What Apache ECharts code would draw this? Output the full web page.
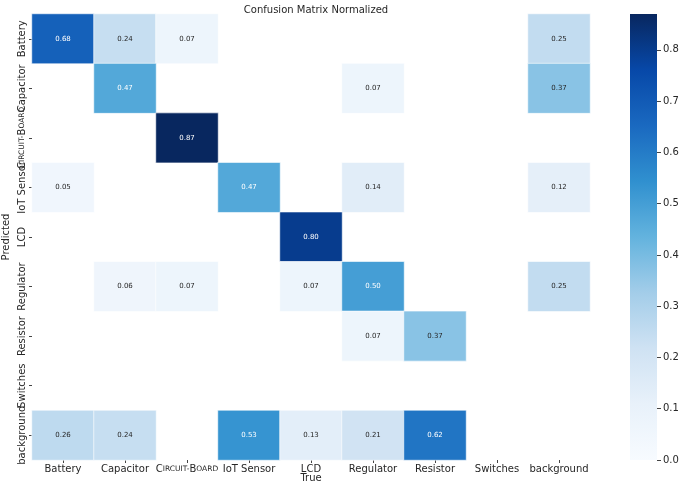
<!DOCTYPE html>
<html>
<head>
<meta charset="utf-8">
<script src="https://cdn.jsdelivr.net/npm/echarts@6/dist/echarts.min.js"></script>
<style>
  html, body { margin: 0; padding: 0; background: #fff; }
  #chart { width: 685px; height: 485px; }
</style>
</head>
<body>
<div id="chart"></div>
<script>
const classes = ['Battery', 'Capacitor', 'Circuit-Board', 'IoT Sensor', 'LCD', 'Regulator', 'Resistor', 'Switches', 'background'];

// rows = predicted, columns = true
const rowBattery    = [0.68, 0.24, 0.07, 0, 0, 0, 0, 0, 0.25];
const rowCapacitor  = [0, 0.47, 0, 0, 0, 0.07, 0, 0, 0.37];
const rowCircuit    = [0, 0, 0.87, 0, 0, 0, 0, 0, 0];
const rowIot        = [0.05, 0, 0, 0.47, 0, 0.14, 0, 0, 0.12];
const rowLcd        = [0, 0, 0, 0, 0.80, 0, 0, 0, 0];
const rowRegulator  = [0, 0.06, 0.07, 0, 0.07, 0.50, 0, 0, 0.25];
const rowResistor   = [0, 0, 0, 0, 0, 0.07, 0.37, 0, 0];
const rowSwitches   = [0, 0, 0, 0, 0, 0, 0, 0, 0];
const rowBackground = [0.26, 0.24, 0, 0.53, 0.13, 0.21, 0.62, 0, 0];

const matrix = [rowBattery, rowCapacitor, rowCircuit, rowIot, rowLcd, rowRegulator, rowResistor, rowSwitches, rowBackground];

const colorbarTicks = [0, 0.1, 0.2, 0.3, 0.4, 0.5, 0.6, 0.7, 0.8];
const vmax = 0.87;

// Blues-like ramp, a bit more saturated as in the picture
const blues = ['#f7fbff', '#e8f1fa', '#cfe2f3', '#a3cde9', '#63b3de', '#3090cf', '#1a69c0', '#0748a8', '#08275f'];

// zero cells are masked (left blank)
const cells = [];
matrix.forEach((row, r) => {
  row.forEach((v, c) => {
    if (v > 0) cells.push([c, r, v]);
  });
});

const FONT = 'DejaVu Sans';

// small caps look for the Circuit-Board tick label
function tickLabel(name) {
  if (name === 'Circuit-Board') {
    return '{b|C}{s|IRCUIT-}{b|B}{s|OARD}';
  }
  return name;
}
const capsRich = {
  b: { fontSize: 10, fontFamily: FONT, color: '#262626' },
  s: { fontSize: 7.5, fontFamily: FONT, color: '#262626' }
};

// colorbar gradient, bottom (0) to top (vmax)
const barGradient = new echarts.graphic.LinearGradient(0, 1, 0, 0,
  blues.map((c, i) => ({ offset: i / (blues.length - 1), color: c })));

const chart = echarts.init(document.getElementById('chart'), null, { renderer: 'canvas' });

chart.setOption({
  animation: false,
  backgroundColor: '#fff',
  title: {
    text: 'Confusion Matrix Normalized',
    left: 311,
    top: 0,
    textAlign: 'center',
    textStyle: { fontFamily: FONT, fontSize: 10, fontWeight: 'normal', color: '#262626' }
  },
  grid: [
    { left: 32, top: 14, width: 558, height: 446, outerBoundsMode: 'none', containLabel: false },
    { left: 630, top: 14, width: 27, height: 446, outerBoundsMode: 'none', containLabel: false }
  ],
  xAxis: [
    {
      type: 'category',
      gridIndex: 0,
      data: classes,
      name: 'True',
      nameLocation: 'middle',
      nameGap: 13,
      nameMoveOverlap: false,
      nameTextStyle: { fontFamily: FONT, fontSize: 10, color: '#262626' },
      axisLine: { show: false },
      axisTick: { show: true, alignWithLabel: true, length: 3, lineStyle: { color: '#444' } },
      axisLabel: {
        fontFamily: FONT, fontSize: 10, color: '#262626', margin: 4,
        interval: 0, formatter: tickLabel, rich: capsRich
      },
      splitLine: { show: false }
    },
    {
      type: 'category', gridIndex: 1, data: ['bar'], show: false
    }
  ],
  yAxis: [
    {
      type: 'category',
      gridIndex: 0,
      data: classes,
      inverse: true,
      name: 'Predicted',
      nameLocation: 'middle',
      nameGap: 21,
      nameMoveOverlap: false,
      nameTextStyle: { fontFamily: FONT, fontSize: 10, color: '#262626' },
      axisLine: { show: false },
      axisTick: { show: true, alignWithLabel: true, length: 3, lineStyle: { color: '#444' } },
      axisLabel: {
        fontFamily: FONT, fontSize: 10, color: '#262626', margin: 5,
        rotate: 90, interval: 0, formatter: tickLabel, rich: capsRich
      },
      splitLine: { show: false }
    },
    {
      type: 'value',
      gridIndex: 1,
      position: 'right',
      min: 0,
      max: vmax,
      axisLine: { show: false },
      axisTick: { show: true, length: 4, lineStyle: { color: '#444' }, customValues: colorbarTicks },
      axisLabel: {
        fontFamily: FONT, fontSize: 10, color: '#262626', margin: 6,
        customValues: colorbarTicks,
        formatter: v => v.toFixed(1)
      },
      splitLine: { show: false }
    }
  ],
  visualMap: {
    type: 'continuous',
    show: false,
    min: 0,
    max: vmax,
    seriesIndex: 0,
    inRange: { color: blues }
  },
  series: [
    {
      type: 'heatmap',
      xAxisIndex: 0,
      yAxisIndex: 0,
      data: cells.map(d => ({
        value: d,
        // white annotation text on dark cells, as seaborn does
        label: { color: d[2] > 0.42 ? '#ffffff' : '#262626' }
      })),
      itemStyle: { borderColor: '#ffffff', borderWidth: 0.6 },
      label: {
        show: true,
        fontFamily: FONT,
        fontSize: 7,
        formatter: p => p.value[2].toFixed(2)
      }
    },
    {
      // the colour bar as one full-height bar on its own axis
      type: 'bar',
      xAxisIndex: 1,
      yAxisIndex: 1,
      silent: true,
      barWidth: '100%',
      data: [vmax],
      itemStyle: { color: barGradient }
    }
  ]
});
</script>
</body>
</html>
